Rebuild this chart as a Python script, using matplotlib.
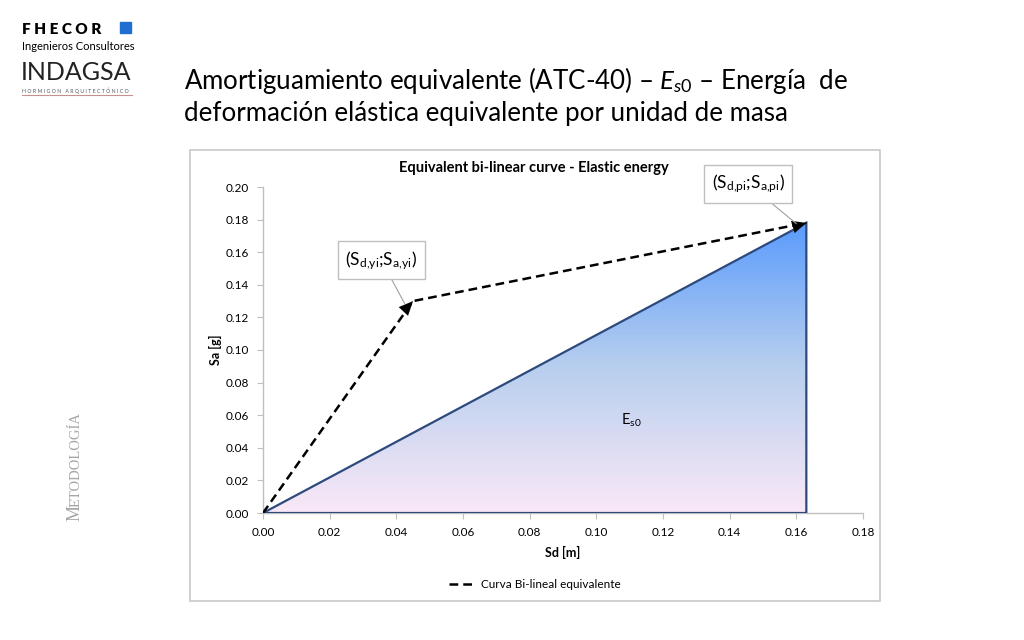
import matplotlib
matplotlib.use("Agg")
import matplotlib.pyplot as plt
import numpy as np
from matplotlib.patches import Polygon, Rectangle
from matplotlib.colors import LinearSegmentedColormap
from matplotlib.lines import Line2D

plt.rcParams['font.family'] = ['Lato', 'DejaVu Sans']
plt.rcParams['mathtext.fontset'] = 'custom'
plt.rcParams['mathtext.rm'] = 'Lato'
plt.rcParams['mathtext.it'] = 'Lato:italic'

# Data
sd_bilinear = [0.0, 0.045, 0.163]
sa_bilinear = [0.0, 0.130, 0.178]
sd_energy = [0.0, 0.163, 0.163]
sa_energy = [0.0, 0.178, 0.0]
x_ticks = [0.00, 0.02, 0.04, 0.06, 0.08, 0.10, 0.12, 0.14, 0.16, 0.18]
y_ticks = [0.00, 0.02, 0.04, 0.06, 0.08, 0.10, 0.12, 0.14, 0.16, 0.18, 0.20]

W, H = 1024, 640
fig = plt.figure(figsize=(W/100, H/100), dpi=100)
fig.patch.set_facecolor('white')

def fx(px): return px / W
def fy(py): return 1 - py / H

# Chart frame
fig.patches.append(Rectangle((fx(190), fy(601)), fx(880) - fx(190), fy(150) - fy(601),
                             transform=fig.transFigure, fill=False, edgecolor='#C8C8C8', lw=1.2))

ax = fig.add_axes([fx(263), fy(513), fx(863) - fx(263), fy(187) - fy(513)])
ax.set_xlim(0, 0.18)
ax.set_ylim(0, 0.20)
ax.set_xticks(x_ticks)
ax.set_yticks(y_ticks)
ax.set_xticklabels([f"{v:.2f}" for v in x_ticks], fontsize=8.5)
ax.set_yticklabels([f"{v:.2f}" for v in y_ticks], fontsize=8.5)
for s in ['top', 'right']:
    ax.spines[s].set_visible(False)
for s in ['left', 'bottom']:
    ax.spines[s].set_color('#BFBFBF')
    ax.spines[s].set_linewidth(1.0)
ax.tick_params(axis='both', direction='out', length=4, color='#BFBFBF', pad=6)
ax.set_facecolor('none')

# Gradient-filled triangle
cmap = LinearSegmentedColormap.from_list('grad', ['#FAE8F7', '#B8CFEE', '#5A9BFC'])
grad = np.linspace(0, 1, 256).reshape(-1, 1)
poly = Polygon(np.column_stack([sd_energy, sa_energy]), closed=True,
               facecolor='none', edgecolor='#2E4A7D', lw=1.6, zorder=3)
im = ax.imshow(grad, cmap=cmap, origin='lower', aspect='auto',
               extent=[min(sd_energy), max(sd_energy), 0, max(sa_energy)], zorder=2)
ax.add_patch(poly)
im.set_clip_path(poly)

# Bilinear curve
ax.plot(sd_bilinear, sa_bilinear, color='black', lw=1.8, dashes=(3.5, 2), zorder=4)

# Arrow heads
ax.annotate('', xy=(sd_bilinear[1], sa_bilinear[1]), xytext=(0.0425, 0.1245),
            arrowprops=dict(arrowstyle='-|>,head_length=1.0,head_width=0.45',
                            color='black', lw=0.1, shrinkA=0, shrinkB=0), zorder=5)
ax.annotate('', xy=(sd_bilinear[2], sa_bilinear[2]), xytext=(0.159, 0.1755),
            arrowprops=dict(arrowstyle='-|>,head_length=1.0,head_width=0.45',
                            color='black', lw=0.1, shrinkA=0, shrinkB=0), zorder=5)

# Label boxes with leader lines
bbox = dict(boxstyle='square,pad=0.45', fc='white', ec='#BFBFBF', lw=1)
ax.annotate(r'(S$_{\mathrm{d{,}yi}}$;S$_{\mathrm{a{,}yi}}$)', xy=(0.0425, 0.1285),
            xytext=(0.0355, 0.155), ha='center', va='center', fontsize=12.5, bbox=bbox,
            arrowprops=dict(arrowstyle='-', color='#A0A0A0', lw=0.8, shrinkA=0, shrinkB=0), zorder=6)
ax.annotate(r'(S$_{\mathrm{d{,}pi}}$;S$_{\mathrm{a{,}pi}}$)', xy=(0.160, 0.1775),
            xytext=(0.1455, 0.2020), ha='center', va='center', fontsize=12.5, bbox=bbox,
            arrowprops=dict(arrowstyle='-', color='#A0A0A0', lw=0.8, shrinkA=0, shrinkB=0),
            annotation_clip=False, zorder=6)

ax.text(0.1105, 0.057, r'E$_{\mathrm{s0}}$', fontsize=10.5, ha='center', va='center', zorder=6)

ax.set_xlabel('Sd [m]', fontsize=9, fontweight='bold', labelpad=6)
ax.set_ylabel('Sa [g]', fontsize=9, fontweight='bold', labelpad=3)
fig.text(fx(534), fy(168), 'Equivalent bi-linear curve - Elastic energy', fontsize=10.5,
         fontweight='bold', ha='center', va='center')

# Legend
handle = Line2D([], [], color='black', lw=1.8, dashes=(3.5, 2))
fig.legend([handle], ['Curva Bi-lineal equivalente'], loc='center',
           bbox_to_anchor=(fx(535), fy(585)), frameon=False, fontsize=8.5,
           handlelength=2.2, handletextpad=0.5)

# Slide title
fig.text(fx(184), fy(81), r'Amortiguamiento equivalente (ATC-40) – $\mathit{E_{s0}}$ – Energía  de',
         fontsize=18.6, ha='left', va='center')
fig.text(fx(184), fy(113), 'deformación elástica equivalente por unidad de masa',
         fontsize=18.6, ha='left', va='center')

# Logo
fig.text(fx(22), fy(29), 'F H E C O R', fontsize=11, fontweight='heavy', ha='left', va='center')
fig.patches.append(Rectangle((fx(120), fy(33)), fx(11), fy(22) - fy(33),
                             transform=fig.transFigure, color='#1F6FD0'))
fig.text(fx(22), fy(46), 'Ingenieros Consultores', fontsize=8, ha='left', va='center')
fig.text(fx(21), fy(73), 'INDAGSA', fontsize=18, fontweight='normal', ha='left', va='center',
         color='#222222')
fig.text(fx(22), fy(91), 'H O R M I G O N   A R Q U I T E C T Ó N I C O', fontsize=3.7,
         ha='left', va='center', color='#555555')
fig.lines.append(Line2D([fx(22), fx(132)], [fy(95), fy(95)], transform=fig.transFigure,
                        color='#C89090', lw=0.8))

# Side label
fig.text(fx(75), fy(521), 'M', fontsize=13, rotation=90, ha='center', va='bottom',
         color='#A6A6A6', family='Liberation Serif')
fig.text(fx(76), fy(507), 'ETODOLOGÍA', fontsize=10.5, rotation=90, ha='center', va='bottom',
         color='#A6A6A6', family='Liberation Serif')

fig.savefig('out.png', dpi=100)
